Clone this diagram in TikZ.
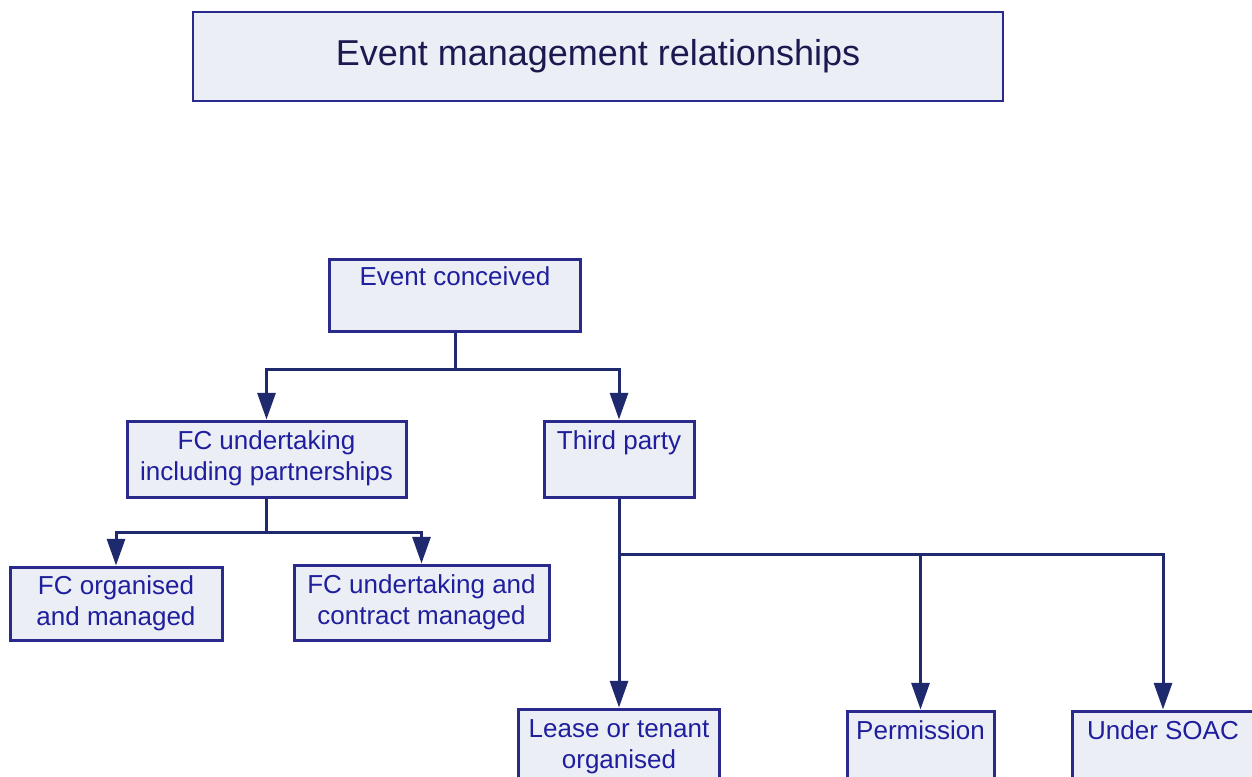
\documentclass[tikz,border=0pt]{standalone}
\usepackage{fontspec}
\setmainfont{Liberation Sans}
\usetikzlibrary{arrows.meta}
\definecolor{boxdraw}{HTML}{2A2A8C}
\definecolor{connc}{HTML}{1F2A6E}
\definecolor{textc}{HTML}{1F1F9E}
\definecolor{titlec}{HTML}{1A1A50}
\definecolor{fillc}{HTML}{ECEEF6}
\tikzset{
  box/.style={draw=boxdraw, fill=fillc, line width=2.25pt, inner sep=0pt,
    align=center, text=textc, font=\fontsize{19.5}{23.25}\selectfont},
  titlebox/.style={draw=boxdraw, fill=fillc, line width=1.8pt, inner sep=0pt,
    text=titlec, font=\fontsize{27}{32}\selectfont},
  conn/.style={draw=connc, line width=2.25pt},
  arr/.style={conn, -{Triangle[width=13.5pt,length=20pt]}},
}
\begin{document}
\begin{tikzpicture}[x=0.75pt,y=-0.75pt]
\useasboundingbox (0,0) rectangle (1252,776);
\clip (0,0) rectangle (1252,776);
\fill[white] (0,0) rectangle (1252,776);

\node[titlebox, minimum width={810*0.75pt}, minimum height={89*0.75pt}] (title) at (598,56.5) {Event management relationships};

\node[box, minimum width={251*0.75pt}, minimum height={72*0.75pt}] (conc) at (455,295) {Event conceived\strut\\\strut};

\node[box, minimum width={279*0.75pt}, minimum height={76*0.75pt}] (fcu) at (266.5,459) {FC undertaking\strut\\including partnerships\strut};
\node[box, minimum width={150*0.75pt}, minimum height={76*0.75pt}] (third) at (619,459) {Third party\strut\\\strut};

\node[box, minimum width={212*0.75pt}, minimum height={73*0.75pt}] (fco) at (116,603.5) {FC organised\strut\\and managed\strut};
\node[box, minimum width={255*0.75pt}, minimum height={75*0.75pt}] (fcuc) at (421.5,602.5) {FC undertaking and\strut\\contract managed\strut};

\node[box, minimum width={201*0.75pt}, minimum height={76*0.75pt}] (lease) at (619,747) {Lease or tenant\strut\\organised\strut};
\node[box, minimum width={147*0.75pt}, minimum height={76*0.75pt}] (perm) at (920.5,749) {Permission\strut\\\strut};
\node[box, minimum width={182*0.75pt}, minimum height={76*0.75pt}] (soac) at (1163,749) {Under SOAC\strut\\\strut};

\draw[conn] (conc.south) -- ++(0,37) coordinate (j1);
\draw[arr] (j1) -| (fcu.north);
\draw[arr] (j1) -| (third.north);

\draw[conn] (fcu.south) -- ++(0,34) coordinate (j2);
\draw[arr] (j2) -| (fco.north);
\draw[arr] (j2) -| (fcuc.north);

\draw[conn] (third.south) -- ++(0,56) coordinate (j3);
\draw[arr] (j3) -- (lease.north);
\draw[arr] (j3) -| (perm.north);
\draw[arr] (j3) -| (soac.north);
\end{tikzpicture}
\end{document}
